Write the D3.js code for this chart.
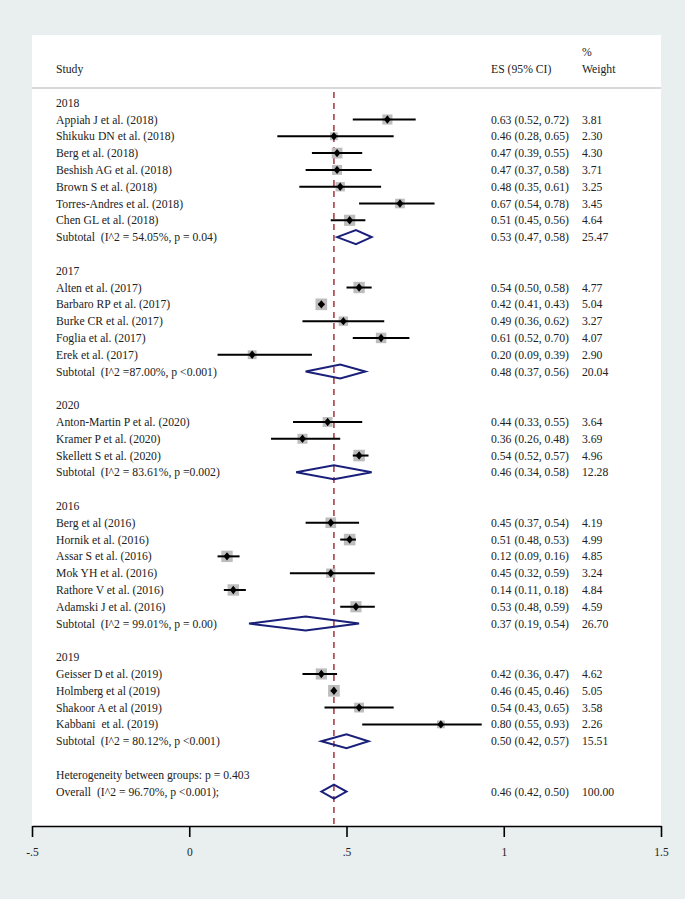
<!DOCTYPE html>
<html lang="en">
<head>
    <meta charset="UTF-8">
    <title>Forest plot</title>
    <script src="https://d3js.org/d3.v7.min.js"></script>
    <style>
        body { margin: 0; background: #e9eeee; }
        svg { display: block; }
        text { font-family: "Liberation Serif", "Times New Roman", serif; fill: #222; white-space: pre; }
    </style>
</head>
<body>
    <svg width="685" height="899"></svg>
    <script>
        // data
        const groupNames = ["2018", "2017", "2020", "2016", "2019"];
        const studyNames = [
            ["Appiah J et al. (2018)", "Shikuku DN et al. (2018)", "Berg et al. (2018)", "Beshish AG et al. (2018)",
             "Brown S et al. (2018)", "Torres-Andres et al. (2018)", "Chen GL et al. (2018)"],
            ["Alten et al. (2017)", "Barbaro RP et al. (2017)", "Burke CR et al. (2017)", "Foglia et al. (2017)",
             "Erek et al. (2017)"],
            ["Anton-Martin P et al. (2020)", "Kramer P et al. (2020)", "Skellett S et al. (2020)"],
            ["Berg et al (2016)", "Hornik et al. (2016)", "Assar S et al. (2016)", "Mok YH et al. (2016)",
             "Rathore V et al. (2016)", "Adamski J et al. (2016)"],
            ["Geisser D et al. (2019)", "Holmberg et al (2019)", "Shakoor A et al (2019)", "Kabbani  et al. (2019)"]
        ];
        const studyES = [
            [0.63, 0.46, 0.47, 0.47, 0.48, 0.67, 0.51],
            [0.54, 0.42, 0.49, 0.61, 0.20],
            [0.44, 0.36, 0.54],
            [0.45, 0.51, 0.12, 0.45, 0.14, 0.53],
            [0.42, 0.46, 0.54, 0.80]
        ];
        const studyLo = [
            [0.52, 0.28, 0.39, 0.37, 0.35, 0.54, 0.45],
            [0.50, 0.41, 0.36, 0.52, 0.09],
            [0.33, 0.26, 0.52],
            [0.37, 0.48, 0.09, 0.32, 0.11, 0.48],
            [0.36, 0.45, 0.43, 0.55]
        ];
        const studyHi = [
            [0.72, 0.65, 0.55, 0.58, 0.61, 0.78, 0.56],
            [0.58, 0.43, 0.62, 0.70, 0.39],
            [0.55, 0.48, 0.57],
            [0.54, 0.53, 0.16, 0.59, 0.18, 0.59],
            [0.47, 0.46, 0.65, 0.93]
        ];
        const studyWt = [
            [3.81, 2.30, 4.30, 3.71, 3.25, 3.45, 4.64],
            [4.77, 5.04, 3.27, 4.07, 2.90],
            [3.64, 3.69, 4.96],
            [4.19, 4.99, 4.85, 3.24, 4.84, 4.59],
            [4.62, 5.05, 3.58, 2.26]
        ];
        const subtotalLabels = [
            "Subtotal  (I^2 = 54.05%, p = 0.04)",
            "Subtotal  (I^2 =87.00%, p <0.001)",
            "Subtotal  (I^2 = 83.61%, p =0.002)",
            "Subtotal  (I^2 = 99.01%, p = 0.00)",
            "Subtotal  (I^2 = 80.12%, p <0.001)"
        ];
        const subtotalES = [0.53, 0.48, 0.46, 0.37, 0.50];
        const subtotalLo = [0.47, 0.37, 0.34, 0.19, 0.42];
        const subtotalHi = [0.58, 0.56, 0.58, 0.54, 0.57];
        const subtotalWt = [25.47, 20.04, 12.28, 26.70, 15.51];
        const heterogeneityLabel = "Heterogeneity between groups: p = 0.403";
        const overallLabel = "Overall  (I^2 = 96.70%, p <0.001);";
        const overallES = 0.46, overallLo = 0.42, overallHi = 0.50, overallWt = 100.00;
        const xTicks = [-0.5, 0, 0.5, 1, 1.5];
        const xTickLabels = ["-.5", "0", ".5", "1", "1.5"];

        // build row table
        const rows = [];
        groupNames.forEach((g, gi) => {
            rows.push({ kind: "group", label: g });
            studyNames[gi].forEach((s, si) => rows.push({
                kind: "study", label: s, es: studyES[gi][si], lo: studyLo[gi][si],
                hi: studyHi[gi][si], wt: studyWt[gi][si]
            }));
            rows.push({ kind: "sub", label: subtotalLabels[gi], es: subtotalES[gi], lo: subtotalLo[gi],
                hi: subtotalHi[gi], wt: subtotalWt[gi] });
            rows.push({ kind: "blank" });
        });
        rows.push({ kind: "text", label: heterogeneityLabel });
        rows.push({ kind: "sub", label: overallLabel, es: overallES, lo: overallLo, hi: overallHi, wt: overallWt });
        rows.forEach((r, i) => r.i = i);

        const svg = d3.select("svg");
        const panel = { left: 32, right: 661, top: 35, axisY: 826 };

        const x = d3.scaleLinear().domain([-0.5, 1.5]).range([panel.left, panel.right]);
        const y = d3.scaleLinear().domain([0, rows.length - 1]).range([102.7, 791.6]);
        const side = d3.scaleSqrt().domain([0, 5]).range([0, 11.6]);

        const fs = 11.7;
        const colES = 491, colWt = 582, colLabel = 56;

        svg.append("rect")
           .attr("x", panel.left).attr("y", panel.top)
           .attr("width", panel.right - panel.left).attr("height", panel.axisY - panel.top)
           .attr("fill", "#fff");

        // header
        const head = svg.append("g").style("font-size", fs + "px");
        head.append("text").attr("x", colLabel).attr("y", 73).text("Study");
        head.append("text").attr("x", colES).attr("y", 73).text("ES (95% CI)");
        head.append("text").attr("x", colWt).attr("y", 56).text("%");
        head.append("text").attr("x", colWt).attr("y", 73).text("Weight");
        svg.append("line")
           .attr("x1", panel.left).attr("x2", panel.right).attr("y1", 88).attr("y2", 88)
           .attr("stroke", "#c9cdd0").attr("stroke-width", 1.5);

        // reference line at overall estimate
        svg.append("line")
           .attr("x1", x(overallES)).attr("x2", x(overallES))
           .attr("y1", 92).attr("y2", panel.axisY)
           .attr("stroke", "#a3343f").attr("stroke-width", 1.5)
           .attr("stroke-dasharray", "6,5");

        // row labels
        const labelRows = rows.filter(r => r.label);
        svg.append("g").style("font-size", fs + "px")
           .selectAll("text").data(labelRows).join("text")
           .attr("x", colLabel).attr("y", d => y(d.i)).attr("dy", "0.35em")
           .text(d => d.label);

        const valRows = rows.filter(r => r.es !== undefined);
        const vals = svg.append("g").style("font-size", fs + "px");
        vals.selectAll("text.es").data(valRows).join("text").attr("class", "es")
            .attr("x", colES).attr("y", d => y(d.i)).attr("dy", "0.35em")
            .text(d => `${d.es.toFixed(2)} (${d.lo.toFixed(2)}, ${d.hi.toFixed(2)})`);
        vals.selectAll("text.wt").data(valRows).join("text").attr("class", "wt")
            .attr("x", colWt).attr("y", d => y(d.i)).attr("dy", "0.35em")
            .text(d => d.wt.toFixed(2));

        // studies
        const studies = rows.filter(r => r.kind === "study");
        const sg = svg.append("g");
        sg.selectAll("rect").data(studies).join("rect")
          .attr("x", d => x(d.es) - side(d.wt) / 2)
          .attr("y", d => y(d.i) - side(d.wt) / 2)
          .attr("width", d => side(d.wt)).attr("height", d => side(d.wt))
          .attr("fill", "#bdbdbd");
        sg.selectAll("line").data(studies).join("line")
          .attr("x1", d => x(d.lo)).attr("x2", d => x(d.hi))
          .attr("y1", d => y(d.i)).attr("y2", d => y(d.i))
          .attr("stroke", "#000").attr("stroke-width", 2);
        sg.selectAll("path").data(studies).join("path")
          .attr("d", d => {
              const cx = x(d.es), cy = y(d.i);
              return `M${cx - 3.4},${cy}L${cx},${cy - 4.2}L${cx + 3.4},${cy}L${cx},${cy + 4.2}Z`;
          })
          .attr("fill", "#000");

        // pooled diamonds
        const subs = rows.filter(r => r.kind === "sub");
        svg.append("g").selectAll("path").data(subs).join("path")
           .attr("d", d => {
               const cy = y(d.i);
               return `M${x(d.lo)},${cy}L${x(d.es)},${cy - 7}L${x(d.hi)},${cy}L${x(d.es)},${cy + 7}Z`;
           })
           .attr("fill", "none").attr("stroke", "#1a1f7a").attr("stroke-width", 2);

        // x axis
        const axis = svg.append("g")
           .attr("transform", `translate(0,${panel.axisY})`)
           .call(d3.axisBottom(x).tickValues(xTicks).tickSize(11).tickSizeOuter(0)
                 .tickFormat((d, i) => xTickLabels[i]));
        axis.select(".domain").attr("stroke", "#000").attr("stroke-width", 1.6);
        axis.selectAll(".tick line").attr("stroke", "#000").attr("stroke-width", 1.6);
        axis.selectAll(".tick text")
            .attr("y", 30).attr("dy", 0)
            .style("font-family", "'Liberation Serif', serif").style("font-size", "11.5px")
            .attr("fill", "#222");
    </script>
</body>
</html>
